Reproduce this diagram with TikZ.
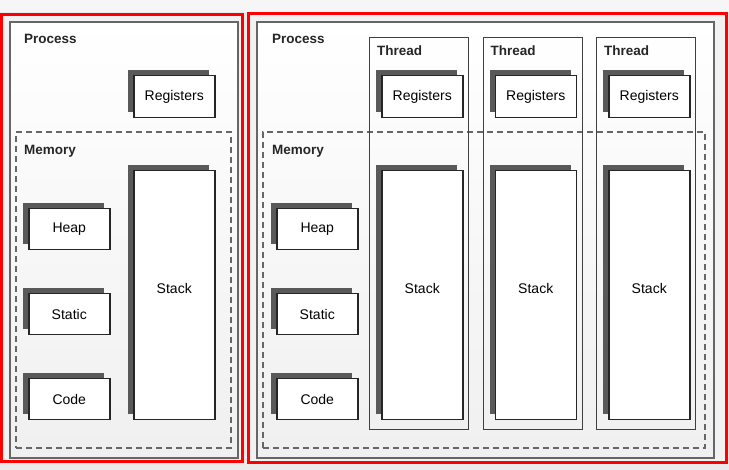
\documentclass[tikz,border=0pt]{standalone}
\usepackage{fontspec}
\setmainfont{Liberation Sans}
\usetikzlibrary{shadows}

\begin{document}
\begin{tikzpicture}[x=1pt,y=-1pt,
    proc/.style={draw=black!60, line width=1.6pt, top color=white, bottom color=gray!12,
      anchor=north west, inner sep=0pt},
    mem/.style={draw=black!60, line width=1.6pt, dash pattern=on 6pt off 4pt,
      anchor=north west, inner sep=0pt},
    thr/.style={draw=black!75, line width=1.3pt, anchor=north west, inner sep=0pt},
    part/.style={draw=black!85, line width=1.5pt, fill=white, anchor=north west, inner sep=0pt,
      minimum width=81pt, minimum height=41pt,
      general shadow={fill=black!65, opacity=1, shadow xshift=-5.5pt, shadow yshift=5.5pt},
      font=\fontsize{14}{16}\selectfont},
    tall/.style={part, minimum height=249pt, text depth=14pt},
    title/.style={anchor=west, inner sep=0pt, text=black!85,
      font=\bfseries\fontsize{13.5}{16}\selectfont}]
  % background
  \fill[gray!16] (0,0) rectangle (729,470);
  \fill[gray!7] (0,0) rectangle (729,12);
  \draw[red, line width=3pt, fill=gray!10] (1.5,14.5) rectangle (242,462);
  \draw[red, line width=3pt, fill=gray!10] (248,13.5) rectangle (726,462.5);

  % single-threaded process
  \node[proc, minimum width=228pt, minimum height=436pt] (procL) at (9,21) {};
  \node[title] (procLtxt) at (24,39) {Process};
  \node[mem, minimum width=215pt, minimum height=316pt] (memL) at (15,131) {};
  \node[title] (memLtxt) at (24,151) {Memory};
  \node[part, minimum height=42pt] (regL) at (133,75) {Registers};
  \node[tall] (stkL) at (133,170) {Stack};
  \node[part] (heapL) at (28,208) {Heap};
  \node[part] (statL) at (28,293) {Static};
  \node[part] (codeL) at (28,378) {Code};

  % multi-threaded process
  \node[proc, minimum width=457pt, minimum height=436pt] (procR) at (256,21) {};
  \node[title] (procRtxt) at (272,39) {Process};
  \node[mem, minimum width=442pt, minimum height=316pt] (memR) at (262,131) {};
  \node[title] (memRtxt) at (272,151) {Memory};
  \node[part] (heapR) at (276,208) {Heap};
  \node[part] (statR) at (276,293) {Static};
  \node[part] (codeR) at (276,378) {Code};
  \foreach \i/\x in {1/369,2/482.5,3/596}{
    \node[thr, minimum width=99pt, minimum height=392pt] (thr\i) at (\x,37) {};
    \node[title] (thr\i txt) at ({\x+8},51) {Thread};
    \node[part, minimum height=42pt] (reg\i) at ({\x+12},75) {Registers};
    \node[tall] (stk\i) at ({\x+12},170) {Stack};
  }
\end{tikzpicture}
\end{document}
